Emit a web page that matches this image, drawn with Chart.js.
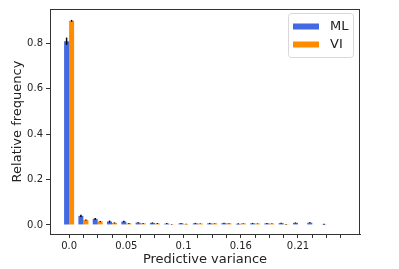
<!DOCTYPE html>
<html>
<head>
<meta charset="utf-8">
<script src="https://cdn.jsdelivr.net/npm/chart.js@4.4.1/dist/chart.umd.min.js"></script>
<style>
  html, body { margin: 0; padding: 0; background: #fff; }
  #wrap { width: 399px; height: 269px; }
</style>
</head>
<body>
<div id="wrap"><canvas id="chart" width="399" height="269"></canvas></div>
<script>
// histogram bins (index of each bin on the x axis)
const bins = [0, 1, 2, 3, 4, 5, 6, 7, 8, 9, 10, 11, 12, 13, 14, 15, 16, 17, 18, 19];
const xTickLabels = ['0.0', '', '', '', '0.05', '', '', '', '0.1', '', '', '', '0.16', '', '', '', '0.21', '', '', ''];

const mlValues = [0.81, 0.040, 0.027, 0.015, 0.015, 0.010, 0.009, 0.006, 0.007, 0.007, 0.007, 0.008, 0.005, 0.007, 0.007, 0.008, 0.009, 0.010, 0.003, 0];
const mlErr    = [0.016, 0.005, 0.004, 0.004, 0.003, 0.002, 0.002, 0.002, 0.002, 0.002, 0.002, 0.002, 0.002, 0.002, 0.002, 0.002, 0.002, 0.002, 0.002, 0];
const viValues = [0.90, 0.022, 0.015, 0.009, 0.007, 0.007, 0.006, 0.003, 0.004, 0.006, 0.007, 0.007, 0.007, 0.006, 0.006, 0.001, 0, 0, 0, 0];
const viErr    = [0.004, 0.002, 0.002, 0.002, 0.002, 0.002, 0.002, 0.001, 0.001, 0.001, 0.001, 0.001, 0.001, 0.001, 0.001, 0.001, 0, 0, 0, 0];

const yTicks = [0, 0.2, 0.4, 0.6, 0.8];
const yTickLabels = ['0.0', '0.2', '0.4', '0.6', '0.8'];

const FONT = 'DejaVu Sans';
const INK = '#222';

const toPoints = (vals) => bins.map((b, i) => ({ x: b, y: vals[i] }));

// black error bars, no caps
const errorBars = {
  id: 'errorBars',
  afterDatasetsDraw(chart) {
    const ctx = chart.ctx;
    const y = chart.scales.y;
    ctx.save();
    ctx.strokeStyle = '#000';
    ctx.lineWidth = 1.5;
    chart.data.datasets.forEach((ds, di) => {
      const meta = chart.getDatasetMeta(di);
      meta.data.forEach((bar, i) => {
        const e = ds.errors[i];
        if (!e) return;
        const v = ds.data[i].y;
        ctx.beginPath();
        ctx.moveTo(bar.x, y.getPixelForValue(v - e));
        ctx.lineTo(bar.x, y.getPixelForValue(v + e));
        ctx.stroke();
      });
    });
    ctx.restore();
  }
};

// box round the plot + matplotlib-like legend
const frameAndLegend = {
  id: 'frameAndLegend',
  afterDraw(chart) {
    const ctx = chart.ctx;
    const a = chart.chartArea;
    ctx.save();
    ctx.strokeStyle = '#333';
    ctx.lineWidth = 1;
    ctx.strokeRect(a.left + 0.5, a.top + 0.5, a.right - a.left - 1, a.bottom - a.top);

    const lx = a.right - 72, ly = a.top + 4, lw = 65, lh = 44;
    ctx.beginPath();
    ctx.roundRect(lx + 0.5, ly + 0.5, lw, lh, 3);
    ctx.fillStyle = 'rgba(255,255,255,0.8)';
    ctx.fill();
    ctx.strokeStyle = '#d8d8d8';
    ctx.stroke();

    ctx.font = '13px "' + FONT + '"';
    ctx.textBaseline = 'middle';
    ctx.textAlign = 'left';
    chart.data.datasets.forEach((ds, i) => {
      const cy = ly + 13.5 + i * 18;
      ctx.fillStyle = ds.backgroundColor;
      ctx.fillRect(lx + 5, cy - 3, 26, 6);
      ctx.fillStyle = INK;
      ctx.fillText(ds.label, lx + 42, cy);
    });
    ctx.restore();
  }
};

new Chart(document.getElementById('chart'), {
  type: 'bar',
  data: {
    datasets: [
      { label: 'ML', data: toPoints(mlValues), errors: mlErr, backgroundColor: '#4169E1' },
      { label: 'VI', data: toPoints(viValues), errors: viErr, backgroundColor: '#FF8C00' }
    ]
  },
  options: {
    responsive: false,
    animation: false,
    layout: { padding: { top: 5, right: 39, left: 0, bottom: 0 } },
    datasets: { bar: { categoryPercentage: 0.7, barPercentage: 1.0, borderWidth: 0 } },
    plugins: {
      legend: { display: false },
      tooltip: { enabled: false }
    },
    scales: {
      x: {
        type: 'linear',
        offset: false,
        min: -1.335,
        max: 20.335,
        afterBuildTicks: (s) => { s.ticks = bins.map(v => ({ value: v })); },
        afterFit: (s) => { s.height = 35; },
        grid: { display: true, offset: false, drawOnChartArea: false, tickLength: 4, tickColor: '#333' },
        border: { display: true, color: '#333' },
        ticks: {
          autoSkip: false, maxRotation: 0, padding: 2, color: INK,
          font: { family: FONT, size: 10 },
          callback: (v) => xTickLabels[bins.indexOf(v)]
        },
        title: {
          display: true, text: 'Predictive variance', color: INK,
          font: { family: FONT, size: 13 }, padding: { top: 0, bottom: 2 }
        }
      },
      y: {
        min: -0.04,
        max: 0.952,
        afterBuildTicks: (s) => { s.ticks = yTicks.map(v => ({ value: v })); },
        afterFit: (s) => { s.width = 50; },
        grid: { display: true, drawOnChartArea: false, tickLength: 4, tickColor: '#333' },
        border: { display: true, color: '#333' },
        ticks: {
          padding: 3, color: INK,
          font: { family: FONT, size: 10 },
          callback: (v) => yTickLabels[yTicks.indexOf(v)]
        },
        title: {
          display: true, text: 'Relative frequency', color: INK,
          font: { family: FONT, size: 13 }, padding: { top: 9.5, bottom: 0 }
        }
      }
    }
  },
  plugins: [errorBars, frameAndLegend]
});
</script>
</body>
</html>
